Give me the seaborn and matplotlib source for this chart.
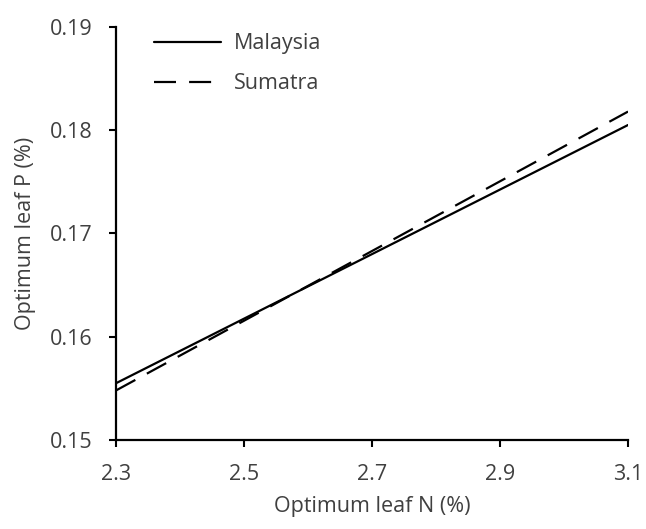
import matplotlib
matplotlib.use("Agg")
import matplotlib.pyplot as plt
import seaborn as sns
import pandas as pd

leaf_n = [2.3, 3.1]
malaysia_p = [0.1555, 0.1805]
sumatra_p = [0.1548, 0.1818]
series = ["Malaysia", "Sumatra"]
x_ticks = [2.3, 2.5, 2.7, 2.9, 3.1]
y_ticks = [0.15, 0.16, 0.17, 0.18, 0.19]

df = pd.DataFrame({
    "N": leaf_n + leaf_n,
    "P": malaysia_p + sumatra_p,
    "Region": [series[0]] * len(leaf_n) + [series[1]] * len(leaf_n),
})

sns.set_style("ticks")
plt.rcParams['font.family'] = ['Open Sans', 'DejaVu Sans']
text_color = "#404040"
fs = 15.5

fig = plt.figure(figsize=(6.46, 5.29), dpi=100)
ax = fig.add_axes([0.1796, 0.1682, 0.7926, 0.781])

sns.lineplot(data=df, x="N", y="P", style="Region", color="black",
             dashes={"Malaysia": "", "Sumatra": (9.9, 5.9)}, linewidth=1.6,
             ax=ax, legend=True)

ax.set_xlim(2.3, 3.1)
ax.set_ylim(0.15, 0.19)
ax.set_xticks(x_ticks)
ax.set_xticklabels([f"{v:.1f}" for v in x_ticks])
ax.set_yticks(y_ticks)
ax.set_yticklabels([f"{v:.2f}" for v in y_ticks])
ax.tick_params(axis="both", direction="out", length=5, width=1.5, colors="black",
               labelsize=fs, labelcolor=text_color)
ax.tick_params(axis="x", pad=12)
ax.tick_params(axis="y", pad=12)
for s in ["top", "right"]:
    ax.spines[s].set_visible(False)
for s in ["left", "bottom"]:
    ax.spines[s].set_linewidth(1.6)
    ax.spines[s].set_color("black")

ax.set_xlabel("Optimum leaf N (%)", fontsize=fs, color=text_color, labelpad=8)
ax.set_ylabel("Optimum leaf P (%)", fontsize=fs, color=text_color, labelpad=10)

leg = ax.legend(loc="upper left", frameon=False, fontsize=fs, handlelength=3.1,
                labelspacing=0.9, bbox_to_anchor=(0.074, 0.985), borderpad=0,
                borderaxespad=0, handletextpad=0.6)
for t in leg.get_texts():
    t.set_color(text_color)

fig.savefig("out.png", dpi=100)
